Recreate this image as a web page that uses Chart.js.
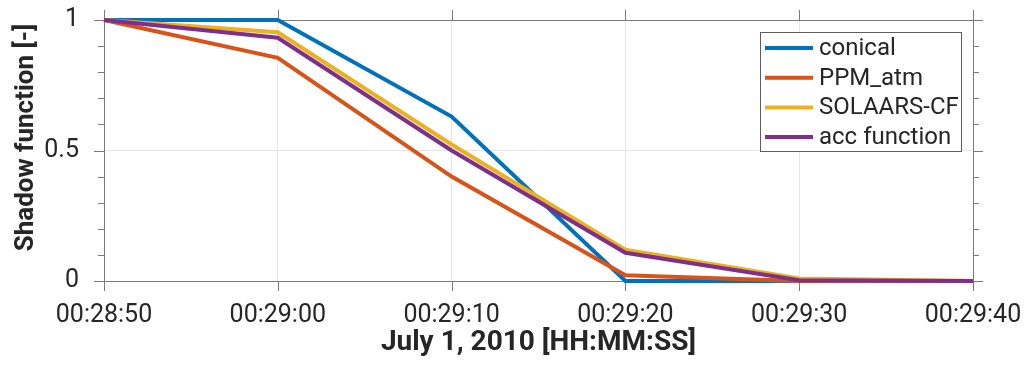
<!DOCTYPE html>
<html>
<head>
<meta charset="utf-8">
<script src="https://cdn.jsdelivr.net/npm/chart.js@4/dist/chart.umd.min.js"></script>
<style>
  html, body { margin: 0; padding: 0; background: #fff; }
  #wrap { width: 1027px; height: 365px; }
</style>
</head>
<body>
<div id="wrap"><canvas id="c" width="1027" height="365"></canvas></div>
<script>
// ---- data ----
const times = ['00:28:50', '00:29:00', '00:29:10', '00:29:20', '00:29:30', '00:29:40'];
const conical = [1, 1, 0.63, 0, 0, 0];
const ppmAtm = [1, 0.855, 0.40, 0.022, 0, 0];
const solaarsCF = [1, 0.953, 0.523, 0.12, 0.01, 0];
const accFunction = [1, 0.932, 0.50, 0.108, 0.003, 0];
const seriesNames = ['conical', 'PPM_atm', 'SOLAARS-CF', 'acc function'];
const yTickValues = [0, 0.5, 1];
const yTickLabels = ['0', '0.5', '1'];
const xTitle = 'July 1, 2010 [HH:MM:SS]';
const yTitle = 'Shadow function [-]';

const colors = ['#0072BD', '#D95319', '#EDB120', '#7E2F8E'];
const AXIS = '#7a7a7a';
const TEXT = '#262626';
const GRID = '#e6e6e6';
const FONT = 'Roboto, "Noto Sans", sans-serif';

function majorLabel(v) {
  for (let i = 0; i < yTickValues.length; i++) {
    if (Math.abs(v - yTickValues[i]) < 1e-9) return yTickLabels[i];
  }
  return '';
}

const boxPlugin = {
  id: 'matlabBox',
  beforeDatasetsDraw(chart) {
    const {ctx, chartArea: a, scales} = chart;
    ctx.save();
    ctx.strokeStyle = AXIS;
    ctx.lineWidth = 1;
    ctx.beginPath();
    ctx.rect(Math.round(a.left) + 0.5, Math.round(a.top) + 0.5,
             Math.round(a.right - a.left), Math.round(a.bottom - a.top));
    ctx.stroke();
    ctx.beginPath();
    scales.x.ticks.forEach((t, i) => {
      const px = Math.round(scales.x.getPixelForTick(i)) + 0.5;
      ctx.moveTo(px, a.bottom); ctx.lineTo(px, a.bottom + 10);
      ctx.moveTo(px, a.top); ctx.lineTo(px, a.top - 10);
    });
    scales.y.ticks.forEach((t) => {
      const py = Math.round(scales.y.getPixelForValue(t.value)) + 0.5;
      const len = majorLabel(t.value) !== '' ? 10 : 6;
      ctx.moveTo(a.left, py); ctx.lineTo(a.left - len, py);
      ctx.moveTo(a.right, py); ctx.lineTo(a.right + len, py);
    });
    ctx.stroke();
    ctx.restore();
  }
};

const legendPlugin = {
  id: 'matlabLegend',
  afterDatasetsDraw(chart) {
    const {ctx} = chart;
    const x0 = 760, y0 = 32, w = 201, h = 119;
    ctx.save();
    ctx.fillStyle = '#fff';
    ctx.fillRect(x0, y0, w, h);
    ctx.strokeStyle = '#5e5e5e';
    ctx.lineWidth = 1;
    ctx.strokeRect(x0 + 0.5, y0 + 0.5, w, h);
    ctx.font = '24px ' + FONT;
    ctx.textBaseline = 'middle';
    ctx.textAlign = 'left';
    chart.data.datasets.forEach((ds, i) => {
      const cy = 48 + i * 29.7;
      ctx.strokeStyle = ds.borderColor;
      ctx.lineWidth = 4;
      ctx.beginPath();
      ctx.moveTo(765, cy); ctx.lineTo(813, cy);
      ctx.stroke();
      ctx.fillStyle = TEXT;
      ctx.fillText(ds.label, 819, cy + 1);
    });
    ctx.restore();
  }
};

const seriesData = [conical, ppmAtm, solaarsCF, accFunction];
const datasets = seriesData.map((d, i) => ({
  label: seriesNames[i],
  data: d,
  borderColor: colors[i],
  backgroundColor: colors[i],
  borderWidth: 4,
  pointRadius: 0,
  tension: 0,
  fill: false,
  clip: 10,
  order: 4 - i
}));

new Chart(document.getElementById('c'), {
  type: 'line',
  data: { labels: times, datasets },
  options: {
    responsive: false,
    devicePixelRatio: 1,
    animation: false,
    layout: { padding: { top: 20, right: 54, left: 0, bottom: 0 } },
    plugins: { legend: { display: false }, tooltip: { enabled: false } },
    scales: {
      x: {
        type: 'category',
        offset: false,
        afterFit(s) { s.height = 84; s.paddingLeft = 0; s.paddingRight = 0; },
        border: { display: false },
        grid: {
          drawTicks: false,
          color: (c) => (c.index === 0 || c.index === times.length - 1) ? 'rgba(0,0,0,0)' : GRID,
          lineWidth: 1
        },
        ticks: {
          color: TEXT,
          font: { family: FONT, size: 25 },
          padding: 20,
          maxRotation: 0,
          autoSkip: false
        },
        title: {
          display: true,
          text: xTitle,
          color: TEXT,
          font: { family: FONT, size: 28, weight: 'bold' },
          padding: { top: 0, bottom: 5 }
        }
      },
      y: {
        min: 0,
        max: 1,
        afterFit(s) { s.width = 104; s.paddingTop = 0; s.paddingBottom = 0; },
        border: { display: false },
        grid: {
          drawTicks: false,
          color: (c) => (c.tick && Math.abs(c.tick.value - 0.5) < 1e-9) ? GRID : 'rgba(0,0,0,0)',
          lineWidth: 1
        },
        ticks: {
          stepSize: 0.1,
          color: TEXT,
          font: { family: FONT, size: 25 },
          padding: 25,
          autoSkip: false,
          callback: (v) => majorLabel(v)
        },
        title: {
          display: true,
          text: '    ' + yTitle,
          color: TEXT,
          font: { family: FONT, size: 26, weight: 'bold' },
          padding: { top: 11, bottom: 0 }
        }
      }
    }
  },
  plugins: [boxPlugin, legendPlugin]
});
</script>
</body>
</html>
